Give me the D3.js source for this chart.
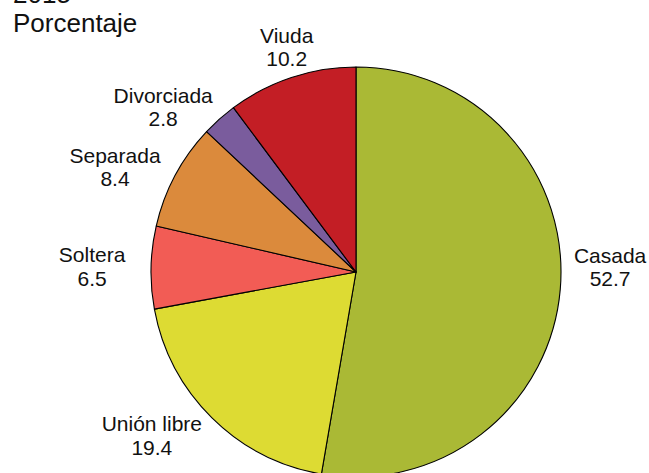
<!DOCTYPE html>
<html>
<head>
<meta charset="utf-8">
<script src="https://cdn.jsdelivr.net/npm/d3@7"></script>
<style>
  body { margin: 0; background: #fff; }
  text { font-family: "Liberation Sans", Arial, sans-serif; fill: #111; }
</style>
</head>
<body>
<div id="chart"></div>
<script>
// estado conyugal, 2015 (porcentaje)
var categories = ["Casada", "Unión libre", "Soltera", "Separada", "Divorciada", "Viuda"];
var values = [52.7, 19.4, 6.5, 8.4, 2.8, 10.2];
var colors = ["#aab935", "#dddb33", "#f25c55", "#db8a3c", "#7a5c9d", "#c31e25"];

var width = 649, height = 473;
var cx = 356, cy = 272, radius = 205;
var labelRadius = 255;
// small shifts so labels don't crowd (like the original layout)
var labelNudge = [[0, -27], [-25, -18], [-9, 0], [-16, 15], [-23, 25], [11, 17]];

var svg = d3.select("#chart").append("svg")
    .attr("width", width)
    .attr("height", height);

svg.append("text")
    .attr("x", 13).attr("y", 2.5)
    .style("font-size", "26px")
    .text("2015");
svg.append("text")
    .attr("x", 13).attr("y", 32)
    .style("font-size", "26px")
    .text("Porcentaje");

var data = categories.map(function(c, i) { return {name: c, value: values[i]}; });

var pie = d3.pie()
    .sort(null)
    .value(function(d) { return d.value; });

var arc = d3.arc().innerRadius(0).outerRadius(radius);
var labelArc = d3.arc().innerRadius(labelRadius).outerRadius(labelRadius);

var g = svg.append("g")
    .attr("transform", "translate(" + cx + "," + cy + ")");

var slices = pie(data);

g.selectAll("path.slice")
    .data(slices)
    .enter().append("path")
    .attr("class", "slice")
    .attr("d", arc)
    .attr("fill", function(d, i) { return colors[i]; })
    .attr("stroke", "#000")
    .attr("stroke-width", 1.1)
    .attr("stroke-linejoin", "round");

var labels = g.selectAll("g.lbl")
    .data(slices)
    .enter().append("g")
    .attr("class", "lbl")
    .attr("transform", function(d, i) {
        var c = labelArc.centroid(d);
        return "translate(" + (c[0] + labelNudge[i][0]) + "," + (c[1] + labelNudge[i][1]) + ")";
    });

labels.append("text")
    .attr("text-anchor", "middle")
    .attr("y", -4)
    .style("font-size", "21px")
    .text(function(d) { return d.data.name; });
labels.append("text")
    .attr("text-anchor", "middle")
    .attr("y", 19.5)
    .style("font-size", "21px")
    .text(function(d) { return d3.format(".1f")(d.data.value); });
</script>
</body>
</html>
